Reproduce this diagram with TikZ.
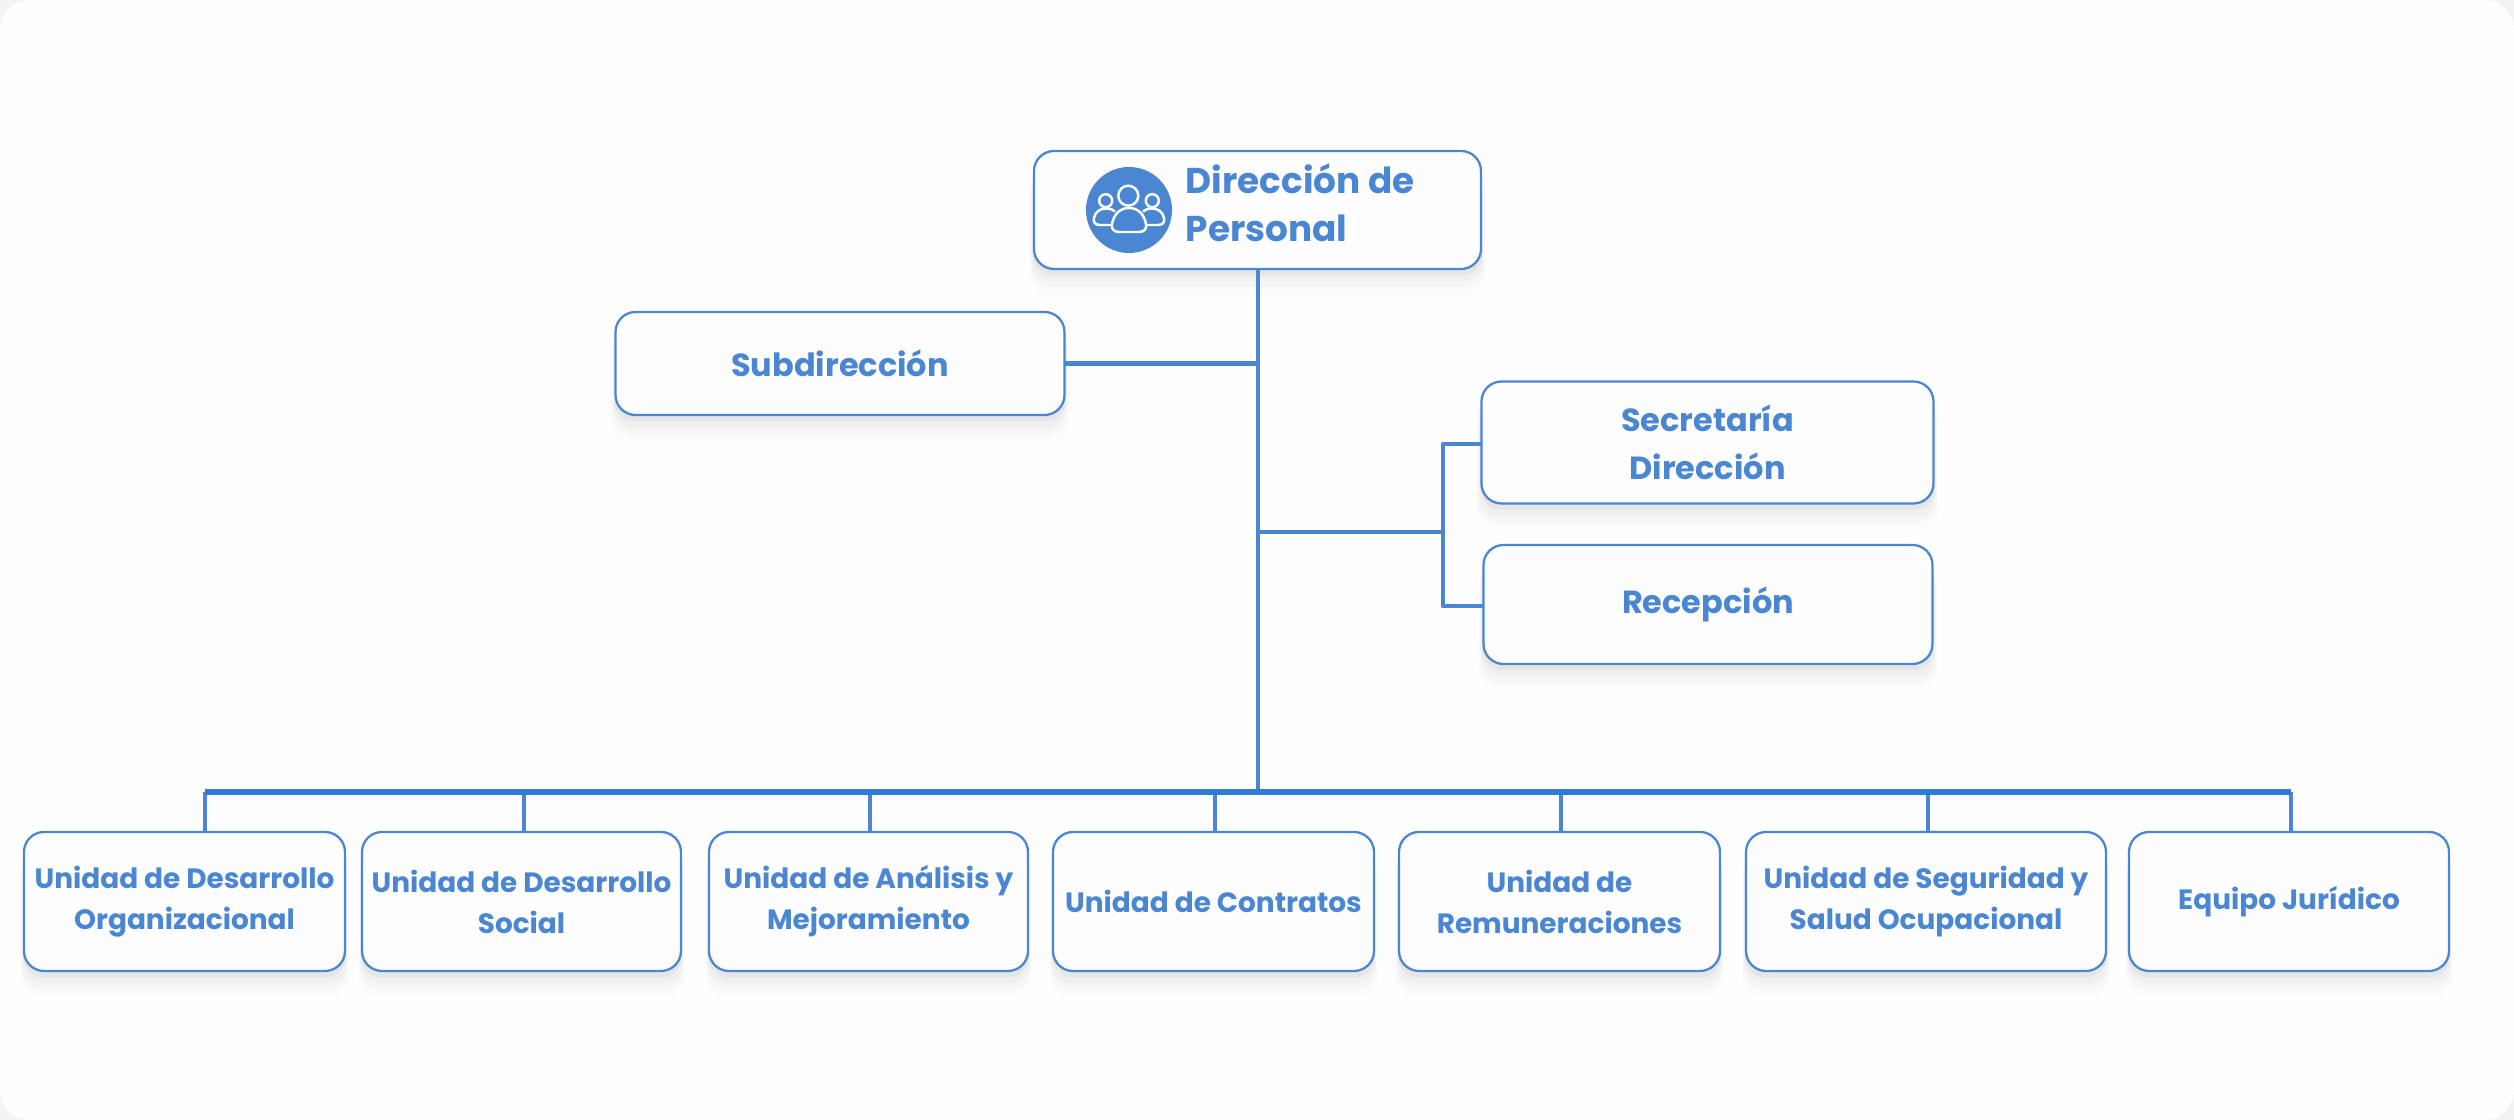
\documentclass[tikz,border=0pt]{standalone}
\usepackage{fontspec}
\usetikzlibrary{shadows}
\newfontfamily\popfont{Poppins}
\definecolor{boxblue}{HTML}{4A86D2}
\definecolor{busblue}{HTML}{2F7AD6}
\definecolor{cardgray}{HTML}{FEFEFE}
\definecolor{pagegray}{HTML}{F3F3F3}
\definecolor{boxfill}{HTML}{FDFDFE}
\tikzset{
	softshadow/.style={
		general shadow={shadow yshift=-.24cm,shadow scale=1.02,fill=black,opacity=.012},
		general shadow={shadow yshift=-.18cm,shadow scale=1.015,fill=black,opacity=.018},
		general shadow={shadow yshift=-.12cm,shadow scale=1.01,fill=black,opacity=.025},
		general shadow={shadow yshift=-.06cm,shadow scale=1.005,fill=black,opacity=.04}},
	orgbox/.style={draw=boxblue,fill=boxfill,line width=.65pt,rounded corners=.2cm,
		softshadow,inner sep=0pt,outer sep=0pt,align=center,text=boxblue,font=\popfont\bfseries},
	midbox/.style={orgbox,font=\popfont\bfseries\fontsize{9.1}{13.7}\selectfont},
	unitbox/.style={orgbox,minimum height=1.39cm,font=\popfont\bfseries\fontsize{7.95}{11.7}\selectfont},
	orgline/.style={draw=boxblue,line width=1.25pt},
	busline/.style={draw=busblue,line width=1.6pt},
	iconline/.style={draw=white,line width=.7pt,line join=round}
}
\begin{document}
\begin{tikzpicture}[line join=round]
	\useasboundingbox (0,0) rectangle (25.14,11.2);
	\fill[pagegray] (0,0) rectangle (25.14,11.2);
	\fill[cardgray,rounded corners=.3cm] (0,0) rectangle (25.14,11.2);

	\coordinate (trunkbot) at (12.58,3.28);
	\coordinate (sidejoin) at (12.58,5.88);
	\coordinate (sidebar) at (14.43,5.88);
	\coordinate (secbend) at (14.43,6.76);
	\coordinate (recbend) at (14.43,5.14);

	\node[orgbox,minimum width=4.47cm,minimum height=1.18cm] (direccion) at (12.575,9.1) {};
	\node[midbox,minimum width=4.49cm,minimum height=1.03cm] (subdir) at (8.4,7.565) {Subdirecci\'on};
	\node[midbox,minimum width=4.52cm,minimum height=1.22cm] (secretaria) at (17.075,6.775) {Secretar\'ia\\Direcci\'on};
	\node[midbox,minimum width=4.49cm,minimum height=1.19cm] (recepcion) at (17.08,5.155) {\raisebox{.07cm}{Recepci\'on}};

	\node[unitbox,minimum width=3.21cm] (uorganiz) at (1.845,2.185) {Unidad de Desarrollo\\Organizacional};
	\node[unitbox,minimum width=3.19cm] (usocial) at (5.215,2.185) {Unidad de Desarrollo\\Social};
	\node[unitbox,minimum width=3.19cm] (uanalisis) at (8.685,2.185) {Unidad de An\'alisis y\\Mejoramiento};
	\node[unitbox,minimum width=3.21cm] (ucontratos) at (12.135,2.185) {Unidad de Contratos};
	\node[unitbox,minimum width=3.21cm] (uremun) at (15.595,2.185) {Unidad de\\Remuneraciones};
	\node[unitbox,minimum width=3.6cm] (useguridad) at (19.26,2.185) {Unidad de Seguridad y\\Salud Ocupacional};
	\node[unitbox,minimum width=3.2cm] (ujuridico) at (22.89,2.185) {Equipo Jur\'idico};

	% linea central y ramas
	\draw[orgline] (direccion.south -| trunkbot) -- (trunkbot);
	\draw[orgline] (subdir.east) -- (subdir.east -| trunkbot);
	\draw[orgline] (sidejoin) -- (sidebar);
	\draw[orgline] (secbend -| secretaria.west) -- (secbend) -- (recbend) -- (recbend -| recepcion.west);

	% barra inferior
	\coordinate (busleft) at (2.05,3.28);
	\coordinate (busright) at (22.91,3.28);
	\foreach \bx/\bn in {2.05/uorganiz,5.24/usocial,8.7/uanalisis,12.15/ucontratos,15.61/uremun,19.28/useguridad,22.91/ujuridico}{
		\coordinate (busdrop) at (\bx,3.28);
		\draw[orgline] (busdrop) -- (busdrop |- \bn.north);
	}
	\draw[busline] (busleft) -- (busright);

	% icono
	\node[circle,fill=boxblue,minimum size=.86cm,inner sep=0pt] (iconbg) at (11.29,9.1) {};
	\draw[iconline] (11.283,9.243) circle (.1);
	\draw[iconline] (11.057,9.193) circle (.065);
	\draw[iconline] (11.523,9.193) circle (.065);
	\draw[iconline] (11.19,8.88) -- (11.39,8.88)
		.. controls (11.44,8.88) and (11.47,8.91) .. (11.46,8.96)
		.. controls (11.44,9.06) and (11.38,9.12) .. (11.29,9.12)
		.. controls (11.2,9.12) and (11.14,9.06) .. (11.12,8.96)
		.. controls (11.11,8.91) and (11.14,8.88) .. (11.19,8.88) -- cycle;
	\draw[iconline] (11.12,8.95) -- (11.0,8.95)
		.. controls (10.95,8.95) and (10.93,8.98) .. (10.94,9.02)
		.. controls (10.95,9.08) and (11.0,9.115) .. (11.06,9.115)
		.. controls (11.1,9.115) and (11.13,9.105) .. (11.15,9.085);
	\draw[iconline] (11.46,8.95) -- (11.58,8.95)
		.. controls (11.63,8.95) and (11.65,8.98) .. (11.64,9.02)
		.. controls (11.63,9.08) and (11.58,9.115) .. (11.52,9.115)
		.. controls (11.48,9.115) and (11.45,9.105) .. (11.43,9.085);

	\node[anchor=west,align=left,inner sep=0pt,text=boxblue,
		font=\popfont\bfseries\fontsize{10.2}{13.7}\selectfont] (dirtext) at (11.85,9.17) {Direcci\'on de\\Personal};
\end{tikzpicture}
\end{document}
